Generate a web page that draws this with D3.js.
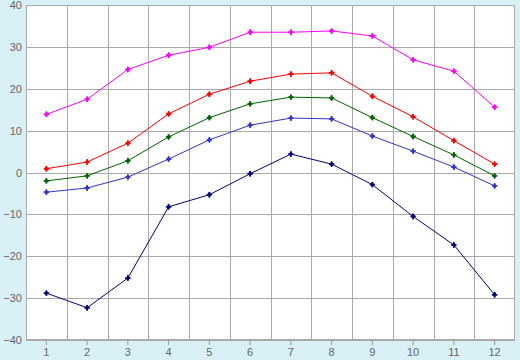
<!DOCTYPE html>
<meta charset="utf-8">
<html>
<head>
  <script src="https://d3js.org/d3.v7.min.js"></script>
</head>
<style>
body { margin: 0; background-color: #d9f0f7; }
svg { display: block; font-family: "DejaVu Sans", sans-serif; }
.tick text { fill: #666; font-size: 11px; }
</style>
<body>
<div id="container"></div>
<script>
var months = [1, 2, 3, 4, 5, 6, 7, 8, 9, 10, 11, 12]
var yTicks = [-40, -30, -20, -10, 0, 10, 20, 30, 40]

var seriesMax    = [13.9, 17.5, 24.6, 28.0, 29.9, 33.5, 33.5, 33.8, 32.6, 26.9, 24.2, 15.6]
var seriesHigh   = [0.9, 2.5, 7.0, 14.0, 18.7, 21.8, 23.5, 23.8, 18.2, 13.3, 7.6, 2.0]
var seriesMean   = [-2.0, -0.8, 2.8, 8.5, 13.1, 16.4, 18.0, 17.8, 13.1, 8.6, 4.2, -0.8]
var seriesLow    = [-4.7, -3.7, -1.1, 3.2, 7.8, 11.3, 13.0, 12.8, 8.7, 5.1, 1.3, -3.2]
var seriesMin    = [-28.8, -32.3, -25.2, -8.2, -5.3, -0.3, 4.4, 2.0, -2.9, -10.5, -17.3, -29.2]

var series = [
  {values: seriesMax, color: "#ff00ff"},
  {values: seriesHigh, color: "#ff0000"},
  {values: seriesMean, color: "#006400"},
  {values: seriesLow, color: "#3333cc"},
  {values: seriesMin, color: "#000080"}
]

var width = 520, height = 360
var margin = {left: 26, right: 5, top: 5, bottom: 20}

var svg = d3.select("#container").append("svg")
  .attr("width", width).attr("height", height)

var x = d3.scaleBand().domain(months)
  .range([margin.left, width - margin.right]).padding(0)
var y = d3.scaleLinear().domain([-40, 40])
  .range([height - margin.bottom, margin.top])

// plot area
svg.append("rect")
  .attr("x", margin.left).attr("y", margin.top)
  .attr("width", width - margin.left - margin.right)
  .attr("height", height - margin.top - margin.bottom)
  .attr("fill", "white")

// horizontal grid
svg.append("g").selectAll("line").data(yTicks).enter().append("line")
  .attr("x1", margin.left).attr("x2", width - margin.right)
  .attr("y1", d => Math.round(y(d)) + 0.5).attr("y2", d => Math.round(y(d)) + 0.5)
  .attr("stroke", "#aaa")

// vertical grid at band edges
svg.append("g").selectAll("line").data(months.slice(1)).enter().append("line")
  .attr("x1", d => Math.round(x(d)) + 0.5).attr("x2", d => Math.round(x(d)) + 0.5)
  .attr("y1", margin.top).attr("y2", height - margin.bottom)
  .attr("stroke", "#aaa")

// border
svg.append("rect")
  .attr("x", margin.left + 0.5).attr("y", margin.top + 0.5)
  .attr("width", width - margin.left - margin.right - 1)
  .attr("height", height - margin.top - margin.bottom - 1)
  .attr("fill", "none").attr("stroke", "#aaa")

var yAxis = svg.append("g")
  .attr("transform", "translate(" + margin.left + ",0)")
  .call(d3.axisLeft(y).tickValues(yTicks).tickSize(0).tickPadding(4)
    .tickFormat(d => d < 0 ? "\u2212" + Math.abs(d) : d))
yAxis.select(".domain").remove()

var xAxis = svg.append("g")
  .attr("transform", "translate(0," + (height - margin.bottom) + ")")
  .call(d3.axisBottom(x).tickSize(5).tickPadding(3))
xAxis.select(".domain").remove()
xAxis.selectAll(".tick line").attr("stroke", "#999")

var cx = d => x(d) + x.bandwidth() / 2
var line = d3.line().x((d, i) => cx(months[i])).y(d => y(d))
var cross = d3.symbol().type(d3.symbolCross).size(16)
var diamond = d3.symbol().type(d3.symbolDiamond).size(12)

series.forEach(function(s) {
  var g = svg.append("g")
  g.append("path")
    .attr("d", line(s.values))
    .attr("fill", "none")
    .attr("stroke", s.color)
    .attr("stroke-width", 1)
  var pts = g.selectAll("g.pt").data(s.values).enter().append("g")
    .attr("class", "pt")
    .attr("transform", (d, i) => "translate(" + cx(months[i]) + "," + y(d) + ")")
    .attr("fill", s.color)
  pts.append("path").attr("d", cross)
  pts.append("path").attr("d", diamond)
})
</script>
</body>
</html>
